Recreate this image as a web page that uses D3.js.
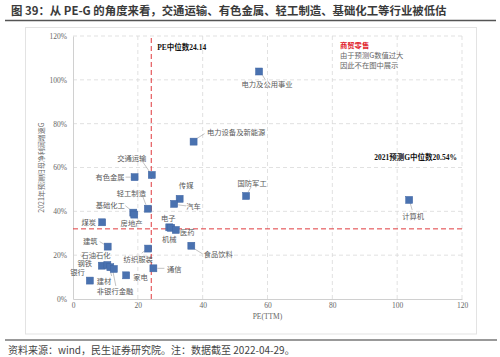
<!DOCTYPE html>
<html><head><meta charset="utf-8">
<script src="https://cdn.jsdelivr.net/npm/d3@7"></script>
<style>
html,body{margin:0;padding:0;background:#fff;}
svg{display:block;}
</style></head>
<body>
<svg id="chart" width="500" height="357"></svg>
<script>
// ---- data ----
const industries = ["交通运输","有色金属","传媒","汽车","轻工制造","基础化工","房地产","煤炭","电子","机械","医药","建筑","纺织服装","食品饮料","钢铁","石油石化","建材","非银行金融","通信","家电","银行","电力设备及新能源","电力及公用事业","国防军工","计算机"];
const peTTM     = [24.3, 19.0, 32.9, 31.2, 23.1, 18.6, 18.9, 9.0, 29.7, 30.3, 31.7, 10.7, 23.2, 36.5, 8.9, 10.6, 11.5, 12.6, 24.8, 16.4, 5.2, 37.2, 57.4, 53.4, 103.7];
const growthG   = [0.566, 0.556, 0.457, 0.434, 0.412, 0.394, 0.385, 0.350, 0.327, 0.325, 0.315, 0.239, 0.230, 0.243, 0.152, 0.155, 0.145, 0.137, 0.140, 0.108, 0.084, 0.718, 1.038, 0.470, 0.452];
const xTicks = [0, 20, 40, 60, 80, 100, 120];
const yTicks = [0, 0.2, 0.4, 0.6, 0.8, 1.0, 1.2];
const peMedian = 24.14;
const gMedianLineAt = 0.32;   // position where the median line is drawn in the source
const gMedianLabel = "2021预测G中位数20.54%";

// ---- label placement (layout only) : [dx, dy, anchor, leader(x1,y1,x2,y2) or null] ----
const labelLayout = {
  "交通运输":[-20,-17,"middle",[-9,-13,-2,-3]],
  "有色金属":[-10,0,"end",[-9,0,-4,0]],
  "传媒":[6.5,-14,"middle",null],
  "汽车":[19.5,2,"middle",[4,1,12,2]],
  "轻工制造":[-16.5,-16,"middle",[-5,-12,-2,-4]],
  "基础化工":[-23,-8,"middle",[-8,-7,-3,-3]],
  "房地产":[-2.7,8.5,"middle",null],
  "煤炭":[-6,0,"end",null],
  "电子":[-1,-9.5,"middle",null],
  "机械":[-2,11.5,"middle",null],
  "医药":[11.5,2,"middle",null],
  "建筑":[-17.5,-6,"middle",[-8,-5,-3,-2]],
  "纺织服装":[-10,10.5,"middle",[-6.5,4.7,-1.5,0.4]],
  "食品饮料":[27,8,"middle",[3,3,11,8]],
  "钢铁":[-9.8,-2.2,"end",null],
  "石油石化":[-11.4,-10,"middle",null],
  "建材":[-6.3,13.8,"middle",[1.4,8.8,-1,0.5]],
  "非银行金融":[1.2,22,"middle",[2,17,-0.8,3]],
  "通信":[13.7,0.7,"start",[4,0,11,0]],
  "家电":[7,1.4,"start",null],
  "银行":[-5,-8.7,"end",null],
  "电力设备及新能源":[13.4,-9.6,"start",[3,-3,11,-8]],
  "电力及公用事业":[8,12.3,"middle",[3,3,6,8]],
  "国防军工":[6,-13,"middle",[2,-4,5,-9]],
  "计算机":[4,15.7,"middle",[1,3,3,10]]
};

const svg = d3.select("#chart");
const serif = "'Liberation Serif','Noto Sans CJK SC',serif";
const cjk = "'Noto Sans CJK SC','Liberation Serif',sans-serif";

// title
svg.append("text").attr("x",11).attr("y",15)
  .attr("font-family",cjk).attr("font-weight","bold").attr("font-size",11.4)
  .attr("fill","#3a3a3a")
  .text("图 39：从 PE-G 的角度来看，交通运输、有色金属、轻工制造、基础化工等行业被低估");
svg.append("line").attr("x1",5).attr("x2",496).attr("y1",20.5).attr("y2",20.5)
  .attr("stroke","#555").attr("stroke-width",1.5);

// chart frame
svg.append("rect").attr("x",25.5).attr("y",27.5).attr("width",451).attr("height",306.5)
  .attr("fill","#fff").attr("stroke","#e3e3e3").attr("stroke-width",1);

// footer
svg.append("line").attr("x1",5).attr("x2",497).attr("y1",340).attr("y2",340)
  .attr("stroke","#777").attr("stroke-width",1.5);
svg.append("text").attr("x",8).attr("y",353.5)
  .attr("font-family",cjk).attr("font-size",10).attr("fill","#444")
  .text("资料来源：wind，民生证券研究院。注：数据截至 2022-04-29。");

// scales
const x = d3.scaleLinear().domain([0,120]).range([73,462]);
const y = d3.scaleLinear().domain([0,1.2]).range([299,36]);

// grid
const g = svg.append("g");
g.selectAll(".vg").data(xTicks.filter(d=>d>0)).join("line")
  .attr("x1",d=>x(d)).attr("x2",d=>x(d)).attr("y1",y(0)).attr("y2",y(1.2))
  .attr("stroke","#d9d9d9").attr("stroke-dasharray","4,3").attr("stroke-width",0.8);
g.selectAll(".hg").data(yTicks.filter(d=>d>0)).join("line")
  .attr("x1",x(0)).attr("x2",x(120)).attr("y1",d=>y(d)).attr("y2",d=>y(d))
  .attr("stroke","#d9d9d9").attr("stroke-dasharray","4,3").attr("stroke-width",0.8);

// axes
const xAxis = d3.axisBottom(x).tickValues(xTicks).tickSize(0).tickPadding(4);
const yAxis = d3.axisLeft(y).tickValues(yTicks).tickSize(0).tickPadding(6).tickFormat(d3.format(".0%"));
const gx = svg.append("g").attr("transform",`translate(0,${y(0)})`).call(xAxis);
const gy = svg.append("g").attr("transform",`translate(${x(0)},0)`).call(yAxis);
[gx,gy].forEach(a=>{
  a.select(".domain").attr("stroke","#d0d0d0").attr("stroke-width",1);
  a.selectAll("text").attr("font-family",serif).attr("font-size",7.5).attr("fill","#666");
});
gy.selectAll("text").attr("dy","0.32em");

// axis titles
svg.append("text").attr("x",(x(0)+x(120))/2).attr("y",318.5)
  .attr("text-anchor","middle").attr("font-family",serif).attr("font-size",7.5).attr("fill","#666")
  .text("PE(TTM)");
svg.append("text").attr("transform",`translate(42,${(y(0)+y(1.2))/2}) rotate(-90)`)
  .attr("text-anchor","middle").attr("dominant-baseline","middle")
  .attr("font-family",cjk).attr("font-size",7).attr("fill","#666")
  .text("2021年预测归母净利润增速G");

// median lines
svg.append("line").attr("x1",x(peMedian)).attr("x2",x(peMedian)).attr("y1",y(0)).attr("y2",y(1.2))
  .attr("stroke","#e03a3e").attr("stroke-width",1).attr("stroke-dasharray","5,3");
svg.append("line").attr("x1",x(0)).attr("x2",x(120)).attr("y1",y(gMedianLineAt)).attr("y2",y(gMedianLineAt))
  .attr("stroke","#e03a3e").attr("stroke-width",1).attr("stroke-dasharray","5,3");

svg.append("text").attr("x",x(peMedian)+6).attr("y",50)
  .attr("font-family",serif).attr("font-weight","bold").attr("font-size",7.5).attr("fill","#111")
  .text("PE中位数"+peMedian.toFixed(2));
svg.append("text").attr("x",457).attr("y",160).attr("text-anchor","end")
  .attr("font-family",serif).attr("font-weight","bold").attr("font-size",7.5).attr("fill","#111")
  .text(gMedianLabel);

// note
const note = svg.append("g").attr("font-family",cjk).attr("font-size",7.3);
note.append("text").attr("x",340).attr("y",47.5).attr("fill","#e0202a").attr("font-weight","bold").text("商贸零售");
note.append("text").attr("x",340).attr("y",57.5).attr("fill","#666").text("由于预测G数值过大");
note.append("text").attr("x",340).attr("y",67.5).attr("fill","#666").text("因此不在图中展示");

// points
const pts = industries.map((n,i)=>({name:n, pe:peTTM[i], g:growthG[i]}));

// leaders
svg.append("g").selectAll("line").data(pts.filter(d=>labelLayout[d.name][3])).join("line")
  .attr("x1",d=>x(d.pe)+labelLayout[d.name][3][0]).attr("y1",d=>y(d.g)+labelLayout[d.name][3][1])
  .attr("x2",d=>x(d.pe)+labelLayout[d.name][3][2]).attr("y2",d=>y(d.g)+labelLayout[d.name][3][3])
  .attr("stroke","#9a9a9a").attr("stroke-width",0.6);

const ms = 7;
svg.append("g").selectAll("rect").data(pts).join("rect")
  .attr("x",d=>x(d.pe)-ms/2).attr("y",d=>y(d.g)-ms/2).attr("width",ms).attr("height",ms)
  .attr("fill","#4a72b0").attr("stroke","#3f65a3").attr("stroke-width",0.5);

svg.append("g").selectAll("text").data(pts).join("text")
  .attr("x",d=>x(d.pe)+labelLayout[d.name][0]).attr("y",d=>y(d.g)+labelLayout[d.name][1])
  .attr("text-anchor",d=>labelLayout[d.name][2]).attr("dominant-baseline","central")
  .attr("font-family",cjk).attr("font-size",7.3).attr("fill","#595959")
  .text(d=>d.name);
</script>
</body></html>
